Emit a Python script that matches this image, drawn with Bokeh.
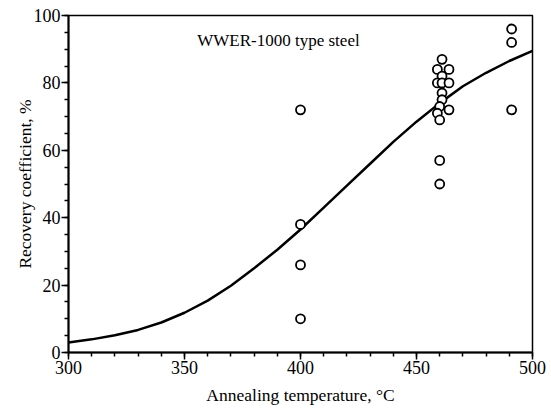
from bokeh.plotting import figure
from bokeh.models import Range1d, SingleIntervalTicker
from bokeh.core.properties import value
from bokeh.embed import file_html
from bokeh.resources import INLINE

# Measured points (annealing temperature, recovery coefficient %)
temp_pts = [400, 400, 400, 400,
            461, 459, 464, 461, 459, 461, 464, 461, 461, 460, 459, 464, 460, 460, 460,
            491, 491, 491]
recov_pts = [72, 38, 26, 10,
             87, 84, 84, 82, 80, 80, 80, 77, 75, 73, 71, 72, 69, 57, 50,
             96, 92, 72]

# Fitted curve
curve_t = [300, 310, 320, 330, 340, 350, 360, 370, 380, 390, 400,
           410, 420, 430, 440, 450, 460, 470, 480, 490, 500]
curve_r = [3.0, 3.9, 5.1, 6.7, 8.9, 11.8, 15.4, 19.8, 25.0, 30.5, 36.5,
           43.0, 49.5, 56.0, 62.5, 68.5, 74.0, 79.0, 83.0, 86.5, 89.5]

title_text = "WWER-1000 type steel"
x_label = "Annealing temperature, \u00b0C"
y_label = "Recovery coefficient, %"

FONT = "Liberation Serif"

p = figure(width=551, height=414, output_backend="svg", toolbar_location=None,
           x_range=Range1d(300, 500), y_range=Range1d(0, 100),
           min_border_left=68, min_border_right=19, min_border_top=15,
           min_border_bottom=62)

p.xgrid.visible = False
p.ygrid.visible = False
p.outline_line_color = "black"
p.outline_line_width = 1.5
p.outline_line_alpha = 1.0

p.line(curve_t, curve_r, line_color="black", line_width=2.5, line_join="round")
p.scatter(temp_pts, recov_pts, marker="circle", size=9, fill_color="white",
          line_color="black", line_width=1.8)

p.text(x=[355.5], y=[92.6], text=[title_text], text_font=value(FONT),
       text_font_size="17px", text_color="black", text_align="left",
       text_baseline="middle")

xa = p.xaxis[0]
xa.ticker = SingleIntervalTicker(interval=50, num_minor_ticks=5)
ya = p.yaxis[0]
ya.ticker = SingleIntervalTicker(interval=20, num_minor_ticks=4)

for ax in (xa, ya):
    ax.axis_line_color = "black"
    ax.axis_line_width = 2
    ax.major_tick_line_color = "black"
    ax.major_tick_line_width = 1.5
    ax.minor_tick_line_color = "black"
    ax.minor_tick_line_width = 1.5
    ax.major_tick_in = 0
    ax.major_tick_out = 7
    ax.minor_tick_in = 0
    ax.minor_tick_out = 4
    ax.major_label_text_font = FONT
    ax.major_label_text_font_size = "18px"
    ax.major_label_text_color = "black"
    ax.major_label_standoff = 1
    ax.axis_label_text_font = FONT
    ax.axis_label_text_font_size = "17.5px"
    ax.axis_label_text_font_style = "normal"
    ax.axis_label_text_color = "black"

xa.axis_label = x_label
xa.axis_label_standoff = 8
ya.axis_label = y_label
ya.axis_label_standoff = -4

open("out.html", "w").write(file_html(p, INLINE))
